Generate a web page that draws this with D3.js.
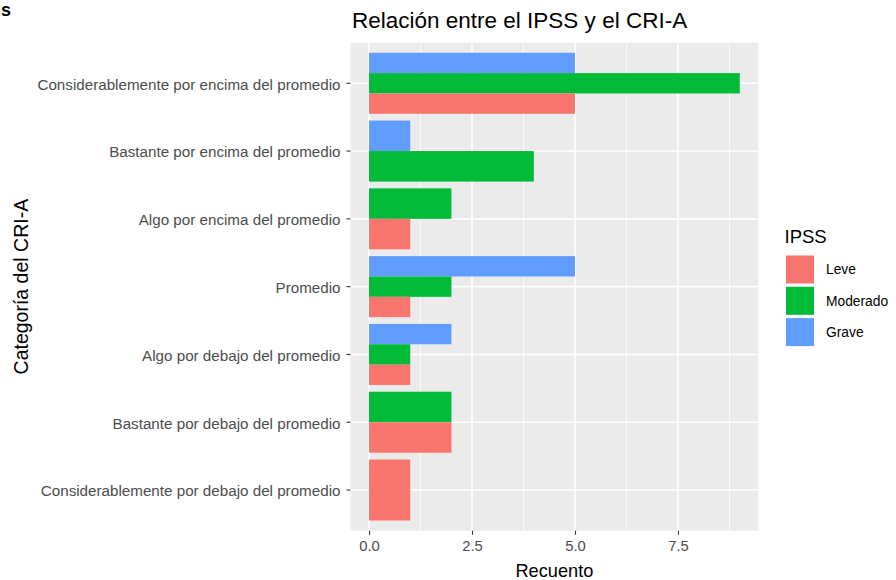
<!DOCTYPE html>
<html>
<head>
<meta charset="utf-8">
<script src="https://cdn.jsdelivr.net/npm/d3@7"></script>
<style>
  html, body { margin: 0; padding: 0; background: #fff; }
  svg { display: block; font-family: "Liberation Sans", Arial, sans-serif; }
</style>
</head>
<body>
<svg id="chart" width="896" height="580"></svg>
<script>
// ---- data ----
const categories = [
  "Considerablemente por encima del promedio",
  "Bastante por encima del promedio",
  "Algo por encima del promedio",
  "Promedio",
  "Algo por debajo del promedio",
  "Bastante por debajo del promedio",
  "Considerablemente por debajo del promedio"
];
const seriesNames = ["Leve", "Moderado", "Grave"];
const leve     = [5, null, 1, 1, 1, 2, 1];
const moderado = [9, 4, 2, 2, 1, 2, null];
const grave    = [5, 1, null, 5, 2, null, null];
const xTicks = [0, 2.5, 5, 7.5];
const xTickLabels = ["0.0", "2.5", "5.0", "7.5"];
const colors = ["#F8766D", "#00BA38", "#619CFF"];

const chartTitle = "Relación entre el IPSS y el CRI-A";
const xTitle = "Recuento";
const yTitle = "Categoría del CRI-A";
const legendTitle = "IPSS";

// ---- layout ----
const svg = d3.select("#chart");
const L = 350.5, R = 758.3, T = 42.6, B = 530.7;

const values = [leve, moderado, grave];
const maxV = d3.max(values.flat().filter(v => v != null));
const pad = maxV * 0.05;
const x = d3.scaleLinear().domain([-pad, maxV + pad]).range([L, R]);

const y = d3.scaleBand().domain(categories).range([T, B])
  .paddingInner(0.1).paddingOuter(0.15);

// panel
svg.append("rect").attr("x", L).attr("y", T).attr("width", R - L).attr("height", B - T)
  .attr("fill", "#EBEBEB");

// minor grid
const minor = xTicks.map(t => t + 1.25);
svg.append("g").selectAll("line").data(minor).join("line")
  .attr("x1", d => x(d)).attr("x2", d => x(d)).attr("y1", T).attr("y2", B)
  .attr("stroke", "#fff").attr("stroke-width", 0.8);
// major grid
svg.append("g").selectAll("line").data(xTicks).join("line")
  .attr("x1", d => x(d)).attr("x2", d => x(d)).attr("y1", T).attr("y2", B)
  .attr("stroke", "#fff").attr("stroke-width", 1.6);
svg.append("g").selectAll("line").data(categories).join("line")
  .attr("x1", L).attr("x2", R)
  .attr("y1", d => y(d) + y.bandwidth() / 2).attr("y2", d => y(d) + y.bandwidth() / 2)
  .attr("stroke", "#fff").attr("stroke-width", 1.6);

// bars (dodged; top to bottom: Grave, Moderado, Leve)
const drawOrder = [2, 1, 0];
const barsG = svg.append("g");
categories.forEach((cat, ci) => {
  const present = drawOrder.filter(si => values[si][ci] != null);
  const sub = d3.scaleBand().domain(present).range([y(cat), y(cat) + y.bandwidth()]).padding(0);
  present.forEach(si => {
    barsG.append("rect")
      .attr("x", x(0))
      .attr("y", sub(si))
      .attr("width", x(values[si][ci]) - x(0))
      .attr("height", sub.bandwidth())
      .attr("fill", colors[si]);
  });
});

// y axis
const yAxis = d3.axisLeft(y).tickSize(4).tickPadding(6);
const gy = svg.append("g").attr("transform", `translate(${L},0)`).call(yAxis);
gy.select(".domain").remove();
gy.selectAll(".tick line").attr("stroke", "#333").attr("stroke-width", 1.1);
gy.selectAll(".tick text").attr("fill", "#4D4D4D").attr("dy", "0.42em")
  .style("font-size", "15.2px");

// x axis
const xAxis = d3.axisBottom(x).tickValues(xTicks).tickFormat((d, i) => xTickLabels[i])
  .tickSize(4).tickPadding(6);
const gx = svg.append("g").attr("transform", `translate(0,${B})`).call(xAxis);
gx.select(".domain").remove();
gx.selectAll(".tick line").attr("stroke", "#333").attr("stroke-width", 1.1);
gx.selectAll(".tick text").attr("fill", "#4D4D4D").style("font-size", "14.8px");

// titles
svg.append("text").attr("x", L + 1.5).attr("y", 28).text(chartTitle)
  .style("font-size", "22.5px").attr("fill", "#000");
svg.append("text").attr("x", (L + R) / 2).attr("y", 577).attr("text-anchor", "middle")
  .text(xTitle).style("font-size", "18.2px").attr("fill", "#000");
svg.append("text").attr("transform", `translate(28,${(T + B) / 2}) rotate(-90)`)
  .attr("text-anchor", "middle").text(yTitle).style("font-size", "19.5px").attr("fill", "#000");

// fragment at top-left
svg.append("text").attr("x", 1).attr("y", 16).text("s")
  .style("font-size", "18px").style("font-weight", "bold").attr("fill", "#000");

// legend
const lg = svg.append("g");
lg.append("text").attr("x", 784.5).attr("y", 243.3).text(legendTitle)
  .style("font-size", "18.5px").attr("fill", "#000");
const keyH = 28, keyGap = 3.3, keyTop = 255.5;
seriesNames.forEach((name, i) => {
  const ky = keyTop + i * (keyH + keyGap);
  lg.append("rect").attr("x", 786).attr("y", ky).attr("width", 28).attr("height", keyH)
    .attr("fill", colors[i]);
  lg.append("text").attr("x", 826).attr("y", ky + keyH / 2).attr("dy", "0.35em")
    .text(name).style("font-size", "13.8px").attr("fill", "#000");
});
</script>
</body>
</html>
